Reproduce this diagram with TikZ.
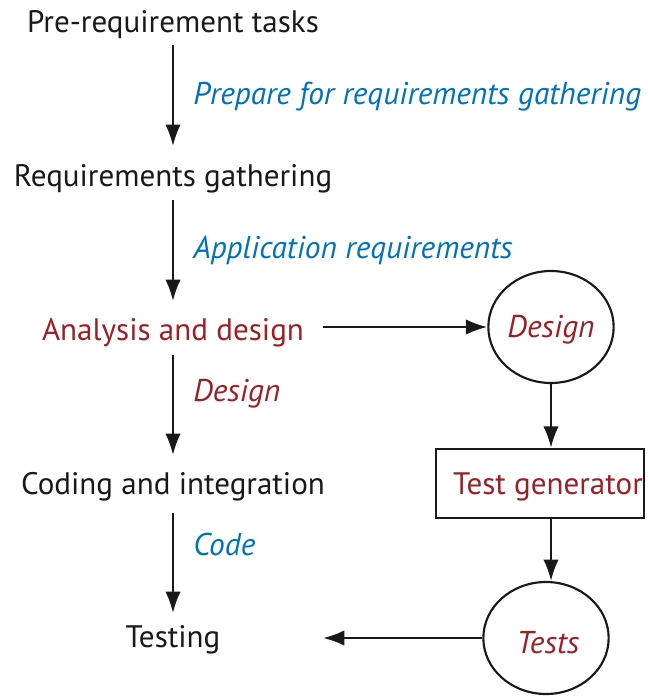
\documentclass[tikz,border=0pt]{standalone}
\usepackage{fontspec}
\setmainfont{PT Sans}
\usetikzlibrary{arrows.meta,shapes.geometric}
\definecolor{lblue}{RGB}{0,114,188}
\definecolor{lred}{RGB}{155,32,38}
\tikzset{
  txt/.style={anchor=base,inner sep=0pt,font=\fontsize{23.3}{28}\selectfont,text=black!90},
  bluelbl/.style={txt,anchor=base west,text=lblue,font=\fontsize{23.6}{28}\selectfont\itshape},
  redlbl/.style={txt,anchor=base west,text=lred,font=\fontsize{23.6}{28}\selectfont\itshape},
  conn/.style={draw=black!90,line width=1.6pt,-{Latex[length=16pt,width=11.5pt]}},
  oval/.style={draw=black!90,line width=1.6pt,ellipse,minimum width=94pt,minimum height=84pt,inner sep=0pt},
  gbox/.style={draw=black!90,line width=1.6pt,minimum width=156pt,minimum height=52pt,inner sep=0pt}
}
\begin{document}
\begin{tikzpicture}[x=0.75pt,y=-0.75pt]
\useasboundingbox (0,0) rectangle (647,698);
% main column
\node[txt] (pre) at (173,33) {Pre-requirement tasks};
\node[txt] (req) at (173,187) {Requirements gathering};
\node[txt,text=lred] (ana) at (173,340) {Analysis and design};
\node[txt] (cod) at (173,494) {Coding and integration};
\node[txt] (tst) at (173,647) {Testing};
% arrow endpoints
\coordinate (a1s) at (173,45);  \coordinate (a1e) at (173,146);
\coordinate (a2s) at (173,200); \coordinate (a2e) at (173,301);
\coordinate (a3s) at (173,355); \coordinate (a3e) at (173,455);
\coordinate (a4s) at (173,513); \coordinate (a4e) at (173,613);
\draw[conn] (a1s) -- (a1e);
\draw[conn] (a2s) -- (a2e);
\draw[conn] (a3s) -- (a3e);
\draw[conn] (a4s) -- (a4e);
% labels
\node[bluelbl] (l1) at (193,105) {Prepare for requirements gathering};
\node[bluelbl] (l2) at (193,258) {Application requirements};
\node[redlbl] (l3) at (193,401) {Design};
\node[bluelbl] (l4) at (193,555) {Code};
% right side
\node[oval] (des) at (551,327) {};
\node[redlbl,anchor=base] (dest) at (551,337) {Design};
\node[gbox] (gen) at (540,483.5) {};
\node[txt,text=lred] (gent) at (548,494) {Test generator};
\node[oval] (tes) at (546,638) {};
\node[redlbl,anchor=base] (test) at (548,653) {Tests};
\coordinate (hs) at (323,327);
\coordinate (hs2) at (323,638);
\draw[conn] (hs) -- (des.west);
\draw[conn] (des.south) -- (gen.north -| des.south);
\draw[conn] (gen.south -| des.south) -- (tes.north -| des.south);
\draw[conn] (tes.west) -- (hs2);
\end{tikzpicture}
\end{document}
